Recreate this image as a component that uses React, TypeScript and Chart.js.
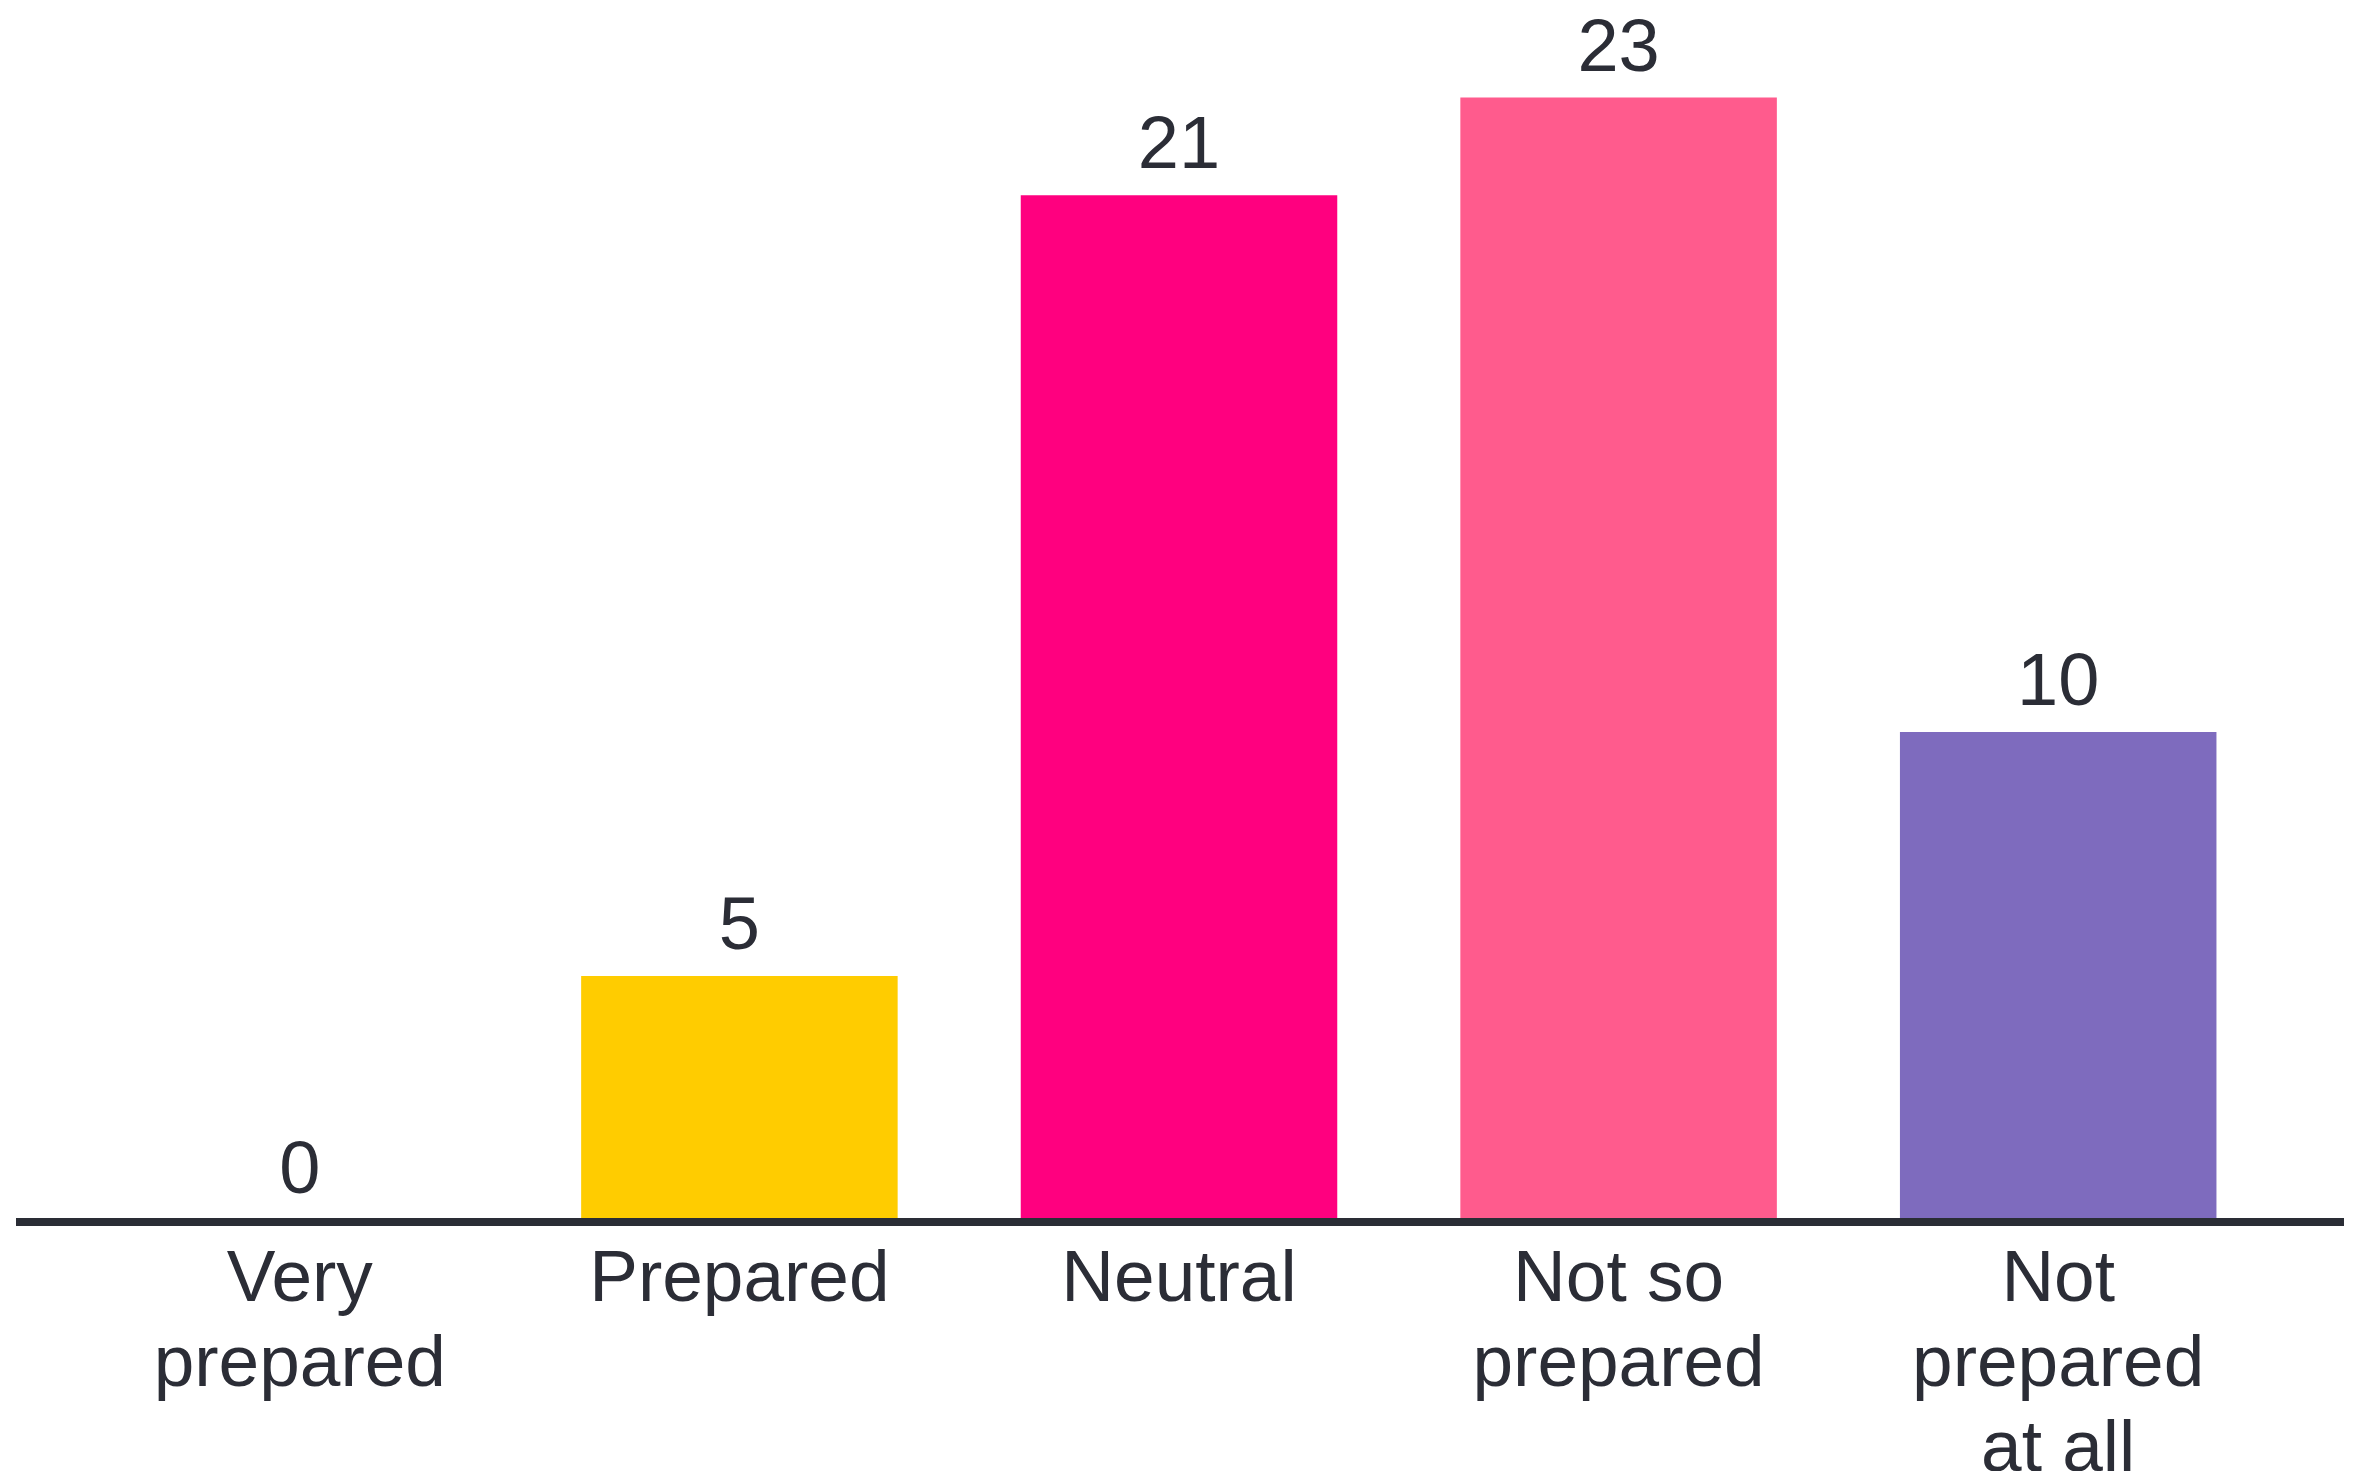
import React, { useEffect, useRef } from "react";
import { Chart, registerables } from "chart.js";

Chart.register(...registerables);

const categories: string[][] = [
  ["Very", "prepared"],
  ["Prepared"],
  ["Neutral"],
  ["Not so", "prepared"],
  ["Not", "prepared", "at all"],
];
const responses: number[] = [0, 5, 21, 23, 10];
const barColors: string[] = ["#FFCC00", "#FFCC00", "#FF007F", "#FF5B8D", "#7E6BBE"];

const TEXT = "#2b2d36";
const FONT = "'Liberation Sans', Arial, sans-serif";

// Value labels above each bar plus a heavy baseline spanning the canvas.
const decorations = {
  id: "decorations",
  afterDatasetsDraw(chart: any) {
    const { ctx } = chart;
    const meta = chart.getDatasetMeta(0);
    ctx.save();
    ctx.fillStyle = TEXT;
    ctx.font = `74px ${FONT}`;
    ctx.textAlign = "center";
    ctx.textBaseline = "alphabetic";
    meta.data.forEach((bar: any, i: number) => {
      ctx.fillText(String(responses[i]), bar.x, bar.y - 27);
    });
    const yBase = chart.scales.y.getPixelForValue(0) + 2;
    ctx.strokeStyle = "#2a2d35";
    ctx.lineWidth = 8;
    ctx.beginPath();
    ctx.moveTo(16, yBase);
    ctx.lineTo(chart.width - 13, yBase);
    ctx.stroke();
    ctx.restore();
  },
};

export default function App() {
  const ref = useRef<HTMLCanvasElement | null>(null);

  useEffect(() => {
    if (!ref.current) return;
    const chart = new Chart(ref.current, {
      type: "bar",
      data: {
        labels: categories,
        datasets: [
          {
            data: responses,
            backgroundColor: barColors,
            borderWidth: 0,
            categoryPercentage: 1,
            barPercentage: 0.72,
          },
        ],
      },
      options: {
        animation: false,
        responsive: false,
        maintainAspectRatio: false,
        layout: { padding: { left: 80, right: 79, top: 0, bottom: 0 } },
        plugins: {
          legend: { display: false },
          tooltip: { enabled: false },
        },
        scales: {
          x: {
            grid: { display: false, drawTicks: false },
            border: { display: false },
            ticks: {
              color: TEXT,
              font: { family: FONT, size: 73, lineHeight: 1.16 },
              padding: 19,
              maxRotation: 0,
              autoSkip: false,
            },
            afterFit: (scale: any) => {
              scale.height = 251;
            },
          },
          y: {
            display: false,
            min: 0,
            max: 25,
          },
        },
      },
      plugins: [decorations],
    });
    return () => chart.destroy();
  }, []);

  return (
    <div style={{ position: "fixed", left: 0, top: 0, width: 2357, height: 1471, background: "#fff" }}>
      <canvas ref={ref} width={2357} height={1471} style={{ display: "block" }} />
    </div>
  );
}
